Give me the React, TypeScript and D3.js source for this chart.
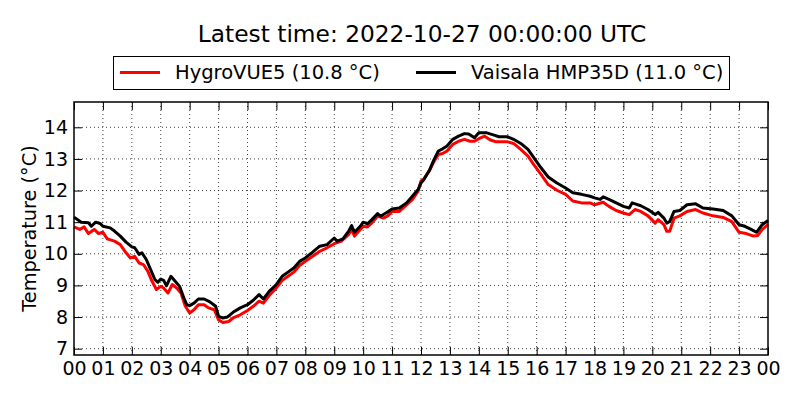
import { useEffect, useMemo, useRef } from "react";
import * as d3 from "d3";

const WIDTH = 800;
const HEIGHT = 400;
const MARGIN = { top: 102, right: 32, bottom: 45, left: 74 };

const TITLE = "Latest time: 2022-10-27 00:00:00 UTC";
const SERIES_NAMES = ["HygroVUE5 (10.8 °C)", "Vaisala HMP35D (11.0 °C)"];
const SERIES_COLORS = ["#ff0000", "#000000"];
const Y_LABEL = "Temperature (°C)";
const HOUR_TICKS = d3.range(0, 25);
const TEMP_TICKS = [7, 8, 9, 10, 11, 12, 13, 14];

// hours since 00 UTC and temperature (°C)
const hygroHours = [
  0, 0.2, 0.35, 0.5, 0.7, 0.85, 1.0, 1.15, 1.4, 1.6, 1.8, 1.95, 2.1, 2.25, 2.4, 2.55, 2.7, 2.85,
  3.0, 3.1, 3.25, 3.4, 3.55, 3.7, 3.85, 4.0, 4.15, 4.3, 4.5, 4.65, 4.85, 5.0, 5.15, 5.35, 5.5,
  5.75, 6.0, 6.2, 6.4, 6.55, 6.75, 7.0, 7.2, 7.4, 7.6, 7.8, 8.0, 8.25, 8.5, 8.75, 9.0, 9.25,
  9.5, 9.6, 9.7, 9.9, 10.0, 10.15, 10.3, 10.5, 10.7, 10.85, 11.0, 11.25, 11.5, 11.7, 11.9,
  12.0, 12.1, 12.3, 12.45, 12.6, 12.75, 12.9, 13.1, 13.3, 13.5, 13.7, 13.85, 14.0, 14.2, 14.4,
  14.6, 15.0, 15.2, 15.45, 15.7, 15.9, 16.15, 16.4, 16.7, 17.0, 17.25, 17.55, 17.85, 18.0,
  18.3, 18.5, 18.75, 19.0, 19.2, 19.4, 19.6, 19.85, 20.1, 20.2, 20.4, 20.5, 20.6, 20.75,
  20.95, 21.2, 21.5, 21.75, 22.1, 22.45, 22.75, 23.0, 23.25, 23.5, 23.65, 23.8, 24.0,
];
const hygroTemps = [
  10.85, 10.77, 10.85, 10.64, 10.77, 10.64, 10.68, 10.47, 10.4, 10.29, 10.03, 9.87, 9.92, 9.71,
  9.66, 9.45, 9.13, 8.87, 8.97, 8.92, 8.76, 9.03, 8.92, 8.76, 8.34, 8.13, 8.23, 8.39, 8.39,
  8.29, 8.23, 7.91, 7.83, 7.86, 7.97, 8.07, 8.21, 8.34, 8.5, 8.44, 8.68, 8.92, 9.16, 9.29,
  9.42, 9.63, 9.76, 9.92, 10.08, 10.19, 10.32, 10.4, 10.61, 10.77, 10.56, 10.77, 10.87, 10.85,
  10.98, 11.19, 11.13, 11.2, 11.34, 11.34, 11.55, 11.71, 11.98, 12.3, 12.37, 12.64, 12.92,
  13.14, 13.17, 13.25, 13.46, 13.56, 13.62, 13.56, 13.56, 13.64, 13.72, 13.6, 13.54, 13.54,
  13.49, 13.3, 13.09, 12.82, 12.51, 12.19, 12.01, 11.88, 11.67, 11.61, 11.61, 11.55, 11.63,
  11.5, 11.37, 11.29, 11.24, 11.4, 11.34, 11.2, 10.97, 11.08, 10.92, 10.71, 10.71, 11.13, 11.2,
  11.34, 11.4, 11.29, 11.2, 11.15, 11.02, 10.68, 10.64, 10.56, 10.58, 10.77, 10.92,
];

const hmpHours = [
  0, 0.25, 0.5, 0.6, 0.75, 0.9, 1.0, 1.25, 1.4, 1.6, 1.8, 2.0, 2.1, 2.25, 2.35, 2.5, 2.65, 2.8,
  2.9, 3.0, 3.1, 3.2, 3.35, 3.5, 3.65, 3.8, 3.9, 4.0, 4.15, 4.3, 4.5, 4.7, 4.9, 5.0, 5.15, 5.3,
  5.5, 5.75, 6.0, 6.2, 6.4, 6.55, 6.75, 7.0, 7.2, 7.4, 7.6, 7.8, 8.0, 8.25, 8.5, 8.75, 9.0,
  9.1, 9.3, 9.5, 9.6, 9.7, 9.9, 10.0, 10.15, 10.3, 10.5, 10.6, 10.8, 11.0, 11.25, 11.5, 11.7,
  11.9, 12.0, 12.1, 12.3, 12.45, 12.6, 12.75, 12.9, 13.1, 13.3, 13.5, 13.65, 13.85, 14.0,
  14.25, 14.5, 14.7, 15.0, 15.2, 15.45, 15.7, 15.9, 16.15, 16.4, 16.7, 17.0, 17.25, 17.55,
  17.85, 18.0, 18.2, 18.3, 18.5, 18.75, 19.0, 19.2, 19.3, 19.6, 19.85, 20.1, 20.2, 20.4, 20.5,
  20.6, 20.75, 20.95, 21.2, 21.5, 21.75, 22.1, 22.45, 22.75, 23.0, 23.2, 23.4, 23.6, 23.8, 24.0,
];
const hmpTemps = [
  11.16, 11.0, 10.98, 10.87, 11.0, 10.96, 10.87, 10.82, 10.72, 10.56, 10.37, 10.22, 10.19,
  9.98, 10.03, 9.82, 9.5, 9.18, 9.1, 9.2, 9.16, 8.99, 9.29, 9.13, 8.97, 8.6, 8.39, 8.36, 8.44,
  8.57, 8.57, 8.48, 8.34, 8.02, 7.97, 8.0, 8.15, 8.29, 8.39, 8.53, 8.71, 8.57, 8.81, 9.03,
  9.29, 9.42, 9.55, 9.76, 9.87, 10.05, 10.24, 10.29, 10.5, 10.4, 10.47, 10.72, 10.89, 10.68,
  10.87, 11.0, 10.95, 11.08, 11.27, 11.19, 11.3, 11.42, 11.45, 11.61, 11.82, 12.03, 12.24,
  12.35, 12.66, 12.98, 13.25, 13.32, 13.41, 13.62, 13.72, 13.8, 13.79, 13.67, 13.83, 13.83,
  13.76, 13.7, 13.7, 13.62, 13.49, 13.3, 13.04, 12.72, 12.43, 12.24, 12.08, 11.93, 11.88,
  11.82, 11.77, 11.72, 11.8, 11.72, 11.61, 11.5, 11.45, 11.61, 11.52, 11.4, 11.24, 11.31,
  11.13, 10.97, 11.02, 11.34, 11.37, 11.55, 11.58, 11.45, 11.42, 11.37, 11.2, 10.92, 10.87,
  10.78, 10.68, 10.92, 11.05,
];

const FONT = "DejaVu Sans, sans-serif";

export default function App() {
  const axesRef = useRef<SVGGElement>(null);

  const boundsWidth = WIDTH - MARGIN.left - MARGIN.right;
  const boundsHeight = HEIGHT - MARGIN.top - MARGIN.bottom;

  const xScale = useMemo(() => d3.scaleLinear().domain([0, 24]).range([0, boundsWidth]), [boundsWidth]);
  const yScale = useMemo(() => d3.scaleLinear().domain([6.8, 14.8]).range([boundsHeight, 0]), [boundsHeight]);

  const series = [
    { hours: hygroHours, temps: hygroTemps },
    { hours: hmpHours, temps: hmpTemps },
  ];

  const lineGen = d3
    .line<[number, number]>()
    .x((d) => xScale(d[0]))
    .y((d) => yScale(d[1]));

  useEffect(() => {
    if (!axesRef.current) return;
    const g = d3.select(axesRef.current);
    g.selectAll("*").remove();

    const hourFmt = (h: d3.NumberValue) => d3.format("02d")(+h % 24);

    const styleAxis = (sel: d3.Selection<SVGGElement, unknown, null, undefined>) => {
      sel.select(".domain").remove();
      sel.selectAll(".tick line").attr("stroke", "#000").attr("stroke-width", 1);
      sel.selectAll(".tick text").attr("fill", "#000").attr("font-size", 19).attr("font-family", FONT);
    };

    g.append("g")
      .attr("transform", `translate(0,${boundsHeight})`)
      .call(d3.axisBottom(xScale).tickValues(HOUR_TICKS).tickFormat(hourFmt).tickSize(-8).tickPadding(7))
      .call(styleAxis);

    g.append("g")
      .call(d3.axisTop(xScale).tickValues(HOUR_TICKS).tickFormat(() => "").tickSize(-8))
      .call(styleAxis);

    g.append("g")
      .call(d3.axisLeft(yScale).tickValues(TEMP_TICKS).tickFormat(d3.format("d")).tickSize(-8).tickPadding(6))
      .call(styleAxis);

    g.append("g")
      .attr("transform", `translate(${boundsWidth},0)`)
      .call(d3.axisRight(yScale).tickValues(TEMP_TICKS).tickFormat(() => "").tickSize(-8))
      .call(styleAxis);
  }, [xScale, yScale, boundsWidth, boundsHeight]);

  return (
    <svg
      width={WIDTH}
      height={HEIGHT}
      style={{ position: "absolute", left: 0, top: 0, background: "#fff" }}
      fontFamily={FONT}
    >
      <rect width={WIDTH} height={HEIGHT} fill="#fff" />
      <text x={422} y={35} textAnchor="middle" dominantBaseline="middle" fontSize={23.3}>
        {TITLE}
      </text>

      {/* legend */}
      <g>
        <rect x={113.5} y={56.5} width={616} height={33} fill="#fff" stroke="#000" strokeWidth={1} />
        {SERIES_NAMES.map((name, i) => {
          const x0 = i === 0 ? 120 : 416;
          return (
            <g key={name}>
              <line x1={x0} x2={x0 + 40} y1={72.5} y2={72.5} stroke={SERIES_COLORS[i]} strokeWidth={3} />
              <text x={x0 + 55} y={72.5} dominantBaseline="central" fontSize={19.5}>
                {name}
              </text>
            </g>
          );
        })}
      </g>

      <g transform={`translate(${MARGIN.left},${MARGIN.top})`}>
        {/* grid */}
        {HOUR_TICKS.slice(1, -1).map((h) => (
          <line
            key={"gx" + h}
            x1={xScale(h)}
            x2={xScale(h)}
            y1={0}
            y2={boundsHeight}
            stroke="#000"
            strokeWidth={1}
            strokeDasharray="1,3"
            opacity={0.75}
          />
        ))}
        {TEMP_TICKS.map((t) => (
          <line
            key={"gy" + t}
            x1={0}
            x2={boundsWidth}
            y1={yScale(t)}
            y2={yScale(t)}
            stroke="#000"
            strokeWidth={1}
            strokeDasharray="1,3"
            opacity={0.75}
          />
        ))}

        {series.map((s, i) => (
          <path
            key={i}
            d={lineGen(s.hours.map((h, j) => [h, s.temps[j]] as [number, number])) ?? ""}
            fill="none"
            stroke={SERIES_COLORS[i]}
            strokeWidth={3}
            strokeLinejoin="round"
          />
        ))}

        <g ref={axesRef} />
        <rect x={0} y={0} width={boundsWidth} height={boundsHeight} fill="none" stroke="#000" strokeWidth={1.5} />
      </g>

      <text
        transform={`translate(30,${MARGIN.top + boundsHeight / 2}) rotate(-90)`}
        textAnchor="middle"
        dominantBaseline="middle"
        fontSize={19.3}
      >
        {Y_LABEL}
      </text>
    </svg>
  );
}
